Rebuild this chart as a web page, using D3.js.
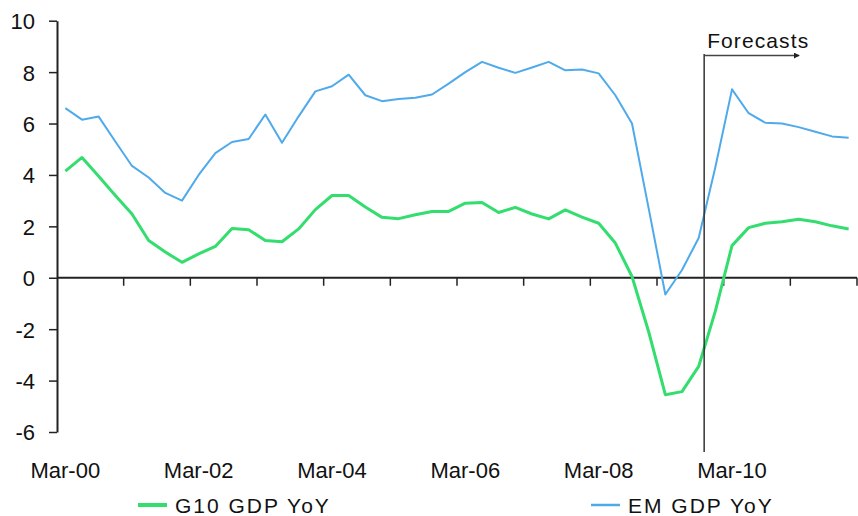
<!DOCTYPE html>
<html>
<head>
<meta charset="utf-8">
<script src="https://cdn.jsdelivr.net/npm/d3@7"></script>
<style>
  html, body { margin: 0; padding: 0; background: #fff; }
  svg { display: block; }
  text { font-family: "Liberation Sans", Arial, sans-serif; fill: #111; }
</style>
</head>
<body>
<svg id="chart" width="858" height="516"></svg>
<script>
const categories = [
  "Mar-00","Jun-00","Sep-00","Dec-00","Mar-01","Jun-01","Sep-01","Dec-01",
  "Mar-02","Jun-02","Sep-02","Dec-02","Mar-03","Jun-03","Sep-03","Dec-03",
  "Mar-04","Jun-04","Sep-04","Dec-04","Mar-05","Jun-05","Sep-05","Dec-05",
  "Mar-06","Jun-06","Sep-06","Dec-06","Mar-07","Jun-07","Sep-07","Dec-07",
  "Mar-08","Jun-08","Sep-08","Dec-08","Mar-09","Jun-09","Sep-09","Dec-09",
  "Mar-10","Jun-10","Sep-10","Dec-10","Mar-11","Jun-11","Sep-11","Dec-11"
];
const g10Gdp = [4.15, 4.68, 3.95, 3.2, 2.48, 1.45, 1.0, 0.6, 0.93, 1.22, 1.92, 1.87,
  1.45, 1.4, 1.9, 2.65, 3.2, 3.2, 2.75, 2.35, 2.3, 2.45, 2.58, 2.58,
  2.9, 2.93, 2.54, 2.74, 2.48, 2.29, 2.64, 2.36, 2.12, 1.35, 0.05, -2.1,
  -4.55, -4.43, -3.45, -1.3, 1.25, 1.95, 2.12, 2.18, 2.28, 2.18, 2.02, 1.9];
const emGdp = [6.6, 6.15, 6.27, 5.3, 4.35, 3.9, 3.3, 3.0, 4.0, 4.85, 5.28, 5.4,
  6.35, 5.25, 6.28, 7.25, 7.45, 7.9, 7.1, 6.87, 6.95, 7.0, 7.13, 7.55,
  8.0, 8.4, 8.17, 7.97, 8.18, 8.4, 8.07, 8.1, 7.95, 7.1, 6.0, 2.7,
  -0.65, 0.3, 1.55, 4.3, 7.33, 6.4, 6.03, 6.0, 5.86, 5.68, 5.5, 5.45];
const yTicks = [-6, -4, -2, 0, 2, 4, 6, 8, 10];
const xLabels = ["Mar-00","Mar-02","Mar-04","Mar-06","Mar-08","Mar-10"];
const seriesNames = ["G10 GDP YoY", "EM GDP YoY"];
const forecastLabel = "Forecasts";
const forecastStart = "Sep-09";

const svg = d3.select("#chart");
const x = d3.scaleBand().domain(categories).range([57, 857]).padding(0);
const y = d3.scaleLinear().domain([-6, 10]).range([432, 20.7]);
const cx = d => x(d) + x.bandwidth() / 2;

// Y axis
const yAxis = d3.axisLeft(y).tickValues(yTicks).tickSize(8).tickSizeOuter(0)
  .tickFormat(d => String(d).replace("\u2212", "-"));
const gy = svg.append("g").attr("transform", "translate(57,0)").call(yAxis);
gy.select(".domain").attr("stroke", "#222").attr("stroke-width", 2);
gy.selectAll(".tick line").attr("stroke", "#222").attr("stroke-width", 1.5);
gy.selectAll(".tick text").attr("x", -22).attr("dy", "0.36em")
  .style("font-size", "22px").style("fill", "#111");

// X axis at zero line
const y0 = y(0);
svg.append("line").attr("x1", 57).attr("x2", 857).attr("y1", y0).attr("y2", y0)
  .attr("stroke", "#222").attr("stroke-width", 2);
const tickIdx = d3.range(4, categories.length + 1, 4);
svg.append("g").selectAll("line").data(tickIdx).join("line")
  .attr("x1", i => i < categories.length ? x(categories[i]) : x.range()[1])
  .attr("x2", i => i < categories.length ? x(categories[i]) : x.range()[1])
  .attr("y1", y0).attr("y2", y0 + 8)
  .attr("stroke", "#222").attr("stroke-width", 1.5);
svg.append("g").selectAll("text").data(xLabels).join("text")
  .attr("x", d => cx(d)).attr("y", 478)
  .attr("text-anchor", "middle")
  .style("font-size", "22px")
  .text(d => d);

// Lines
const line = d3.line().x((d, i) => cx(categories[i])).y(d => y(d));
svg.append("path").datum(g10Gdp).attr("d", line)
  .attr("fill", "none").attr("stroke", "#33dd6e").attr("stroke-width", 3)
  .attr("stroke-linejoin", "round");
svg.append("path").datum(emGdp).attr("d", line)
  .attr("fill", "none").attr("stroke", "#4faaec").attr("stroke-width", 2)
  .attr("stroke-linejoin", "round");

// Forecast marker
const fx = x(forecastStart) + x.bandwidth() * 0.83;
svg.append("line").attr("x1", fx).attr("x2", fx).attr("y1", 54).attr("y2", 452)
  .attr("stroke", "#333").attr("stroke-width", 1.5);
svg.append("defs").append("marker").attr("id", "arr")
  .attr("viewBox", "0 0 10 10").attr("refX", 9).attr("refY", 5)
  .attr("markerWidth", 4).attr("markerHeight", 4).attr("orient", "auto")
  .append("path").attr("d", "M0,0 L10,5 L0,10 z").attr("fill", "#222");
svg.append("line").attr("x1", fx).attr("x2", fx + 95).attr("y1", 55.5).attr("y2", 55.5)
  .attr("stroke", "#444").attr("stroke-width", 1.5).attr("marker-end", "url(#arr)");
svg.append("text").attr("x", fx + 3).attr("y", 48).style("font-size", "21px")
  .style("letter-spacing", "1.1px").text(forecastLabel);

// Legend
const legend = [
  { name: seriesNames[0], color: "#33dd6e", w: 4, lx: 138 },
  { name: seriesNames[1], color: "#4faaec", w: 2.5, lx: 591 }
];
const lg = svg.append("g").selectAll("g").data(legend).join("g");
lg.append("line").attr("x1", d => d.lx).attr("x2", d => d.lx + 29)
  .attr("y1", 505).attr("y2", 505)
  .attr("stroke", d => d.color).attr("stroke-width", d => d.w);
lg.append("text").attr("x", d => d.lx + 37).attr("y", 513)
  .style("font-size", "21px").style("letter-spacing", "2px")
  .text(d => d.name);
</script>
</body>
</html>
